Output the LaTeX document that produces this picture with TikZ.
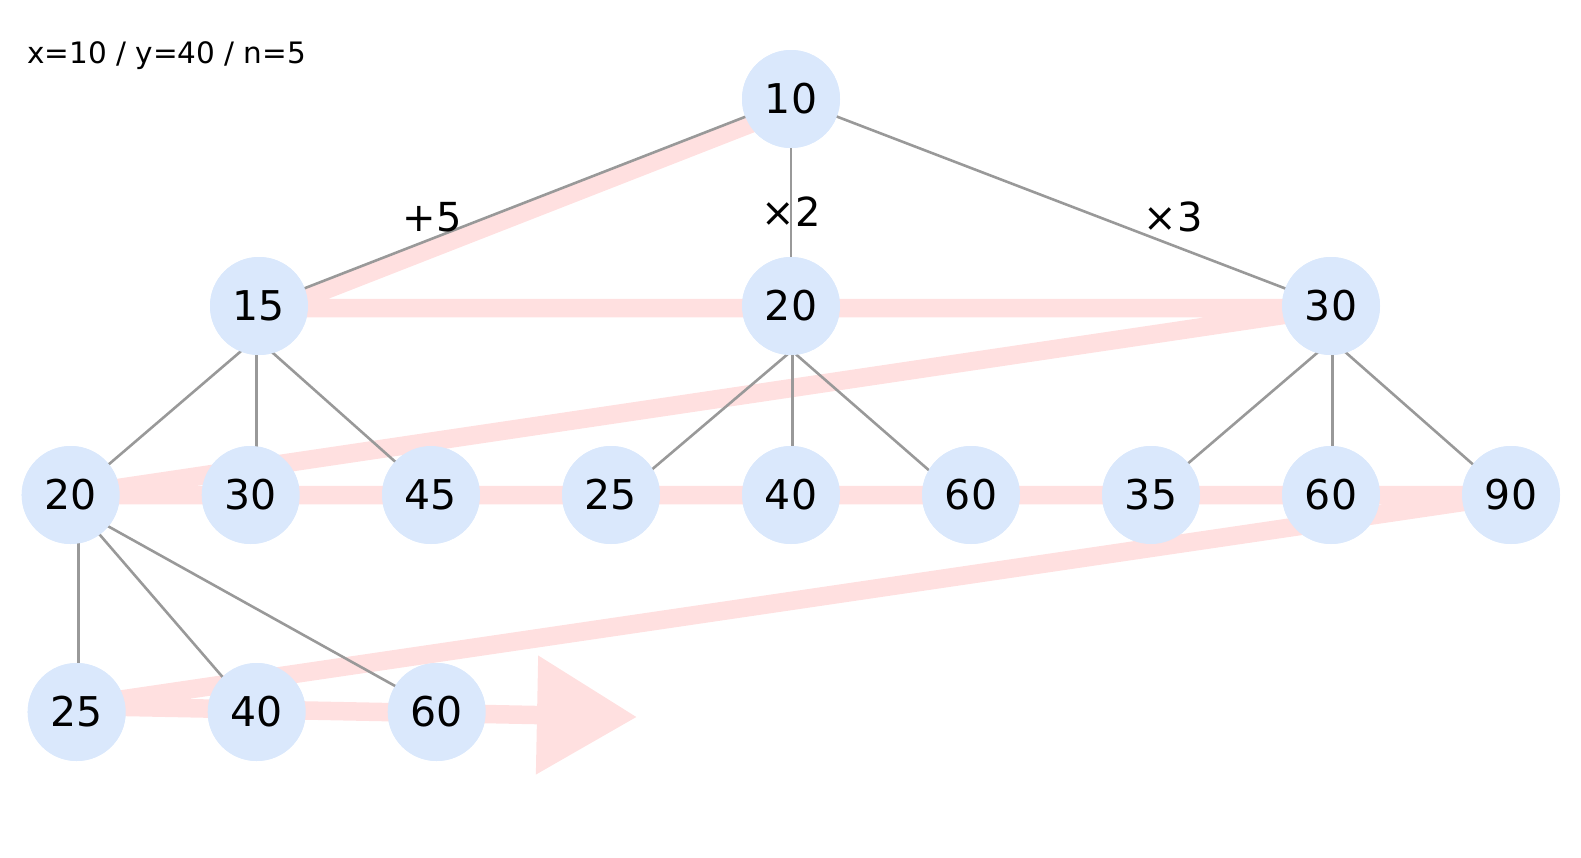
\documentclass[tikz,border=0pt]{standalone}
\usepackage{fontspec}
\setmainfont{DejaVu Sans}
\usetikzlibrary{arrows.meta,calc}
\definecolor{nodefill}{HTML}{DAE8FC}
\definecolor{edgegray}{HTML}{999999}
\definecolor{pathpink}{HTML}{FFE0E0}
\tikzset{
  vnode/.style={circle, fill=nodefill, minimum size=98pt, inner sep=0pt, font=\fontsize{41}{49}\selectfont},
  treeedge/.style={draw=edgegray, line width=2.6pt, shorten <=-3pt, shorten >=-3pt},
  orderpath/.style={draw=pathpink, line width=18.5pt, -{Triangle[length=100pt,width=114pt]}},
  oplabel/.style={font=\fontsize{40}{48}\selectfont, inner sep=0pt}
}
\begin{document}
\begin{tikzpicture}[x=1pt,y=-1pt]
\useasboundingbox (0,0) rectangle (1581,857);
% nodes (positions)
\node[vnode] (n10) at (791,99) {10};
\node[vnode] (a15) at (259,306) {15};
\node[vnode] (a20) at (791,306) {20};
\node[vnode] (a30) at (1331,306) {30};
\node[vnode] (b20) at (70.7,495) {20};
\node[vnode] (b30) at (250.7,495) {30};
\node[vnode] (b45) at (431,495) {45};
\node[vnode] (b25) at (611,495) {25};
\node[vnode] (b40) at (791,495) {40};
\node[vnode] (b60) at (971,495) {60};
\node[vnode] (b35) at (1151,495) {35};
\node[vnode] (b60b) at (1331,495) {60};
\node[vnode] (b90) at (1511,495) {90};
\node[vnode] (c25) at (76.7,712) {25};
\node[vnode] (c40) at (256.7,712) {40};
\node[vnode] (c60) at (436.7,712) {60};
\coordinate (tip) at (637,717);
% pink traversal path
\path[orderpath] ($(n10.center)+(0,9)$)
  -- ($(a15.center)+(0,10)$) -- ($(a15.center)+(0,2)$) -- ($(a30.center)+(0,2)$)
  -- (b20.center) -- (b90.center)
  -- ($(c25.center)+(0,-6)$) -- (tip);
% tree edges
\draw[treeedge] (n10.center) -- (a15.center);
\draw[treeedge] (n10.center) -- (a20.center);
\draw[treeedge] (n10.center) -- (a30.center);
\draw[treeedge] ($(a15.center)+(-19,46)$) -- ($(b20.center)+(39.3,-31.7)$);
\draw[treeedge] ($(a15.center)+(-2.3,47)$) -- ($(b30.center)+(6,-49)$);
\draw[treeedge] ($(a15.center)+(14.3,47.3)$) -- ($(b45.center)+(-37.7,-35)$);
\draw[treeedge] ($(a20.center)+(-4.3,49)$) -- ($(b25.center)+(42.3,-26.7)$);
\draw[treeedge] ($(a20.center)+(1.3,49)$) -- ($(b40.center)+(1.3,-49)$);
\draw[treeedge] ($(a20.center)+(5.7,49)$) -- ($(b60.center)+(-44.3,-26.7)$);
\draw[treeedge] ($(a30.center)+(-14.3,47.3)$) -- ($(b35.center)+(39,-33.3)$);
\draw[treeedge] ($(a30.center)+(1.3,47)$) -- ($(b60b.center)+(1.3,-49)$);
\draw[treeedge] ($(a30.center)+(15.7,47.3)$) -- ($(b90.center)+(-39.3,-31.7)$);
\draw[treeedge] ($(b20.center)+(7.6,50)$) -- ($(c25.center)+(1.6,-50.3)$);
\draw[treeedge] ($(b20.center)+(29.3,40)$) -- ($(c40.center)+(-35,-36)$);
\draw[treeedge] ($(b20.center)+(39.3,32.3)$) -- ($(c60.center)+(-43.4,-27)$);
% nodes drawn again on top of edges and path
\foreach \n in {n10,a15,a20,a30,b20,b30,b45,b25,b40,b60,b35,b60b,b90,c25,c40,c60}
  \fill[nodefill] (\n.center) circle (49pt);
\foreach \n/\t in {n10/10,a15/15,a20/20,a30/30,b20/20,b30/30,b45/45,b25/25,b40/40,b60/60,b35/35,b60b/60,b90/90,c25/25,c40/40,c60/60}
  \node[font=\fontsize{41}{49}\selectfont, inner sep=0pt] at (\n.center) {\t};
% operation labels
\node[oplabel] (l1) at (432,217) {+5};
\node[oplabel] (l2) at (791,212) {×2};
\node[oplabel] (l3) at (1173,217) {×3};
% header
\node[anchor=base west, inner sep=0pt, font=\fontsize{29.5}{35}\selectfont] (hdr) at (27,63) {x=10 / y=40 / n=5};
\end{tikzpicture}
\end{document}
